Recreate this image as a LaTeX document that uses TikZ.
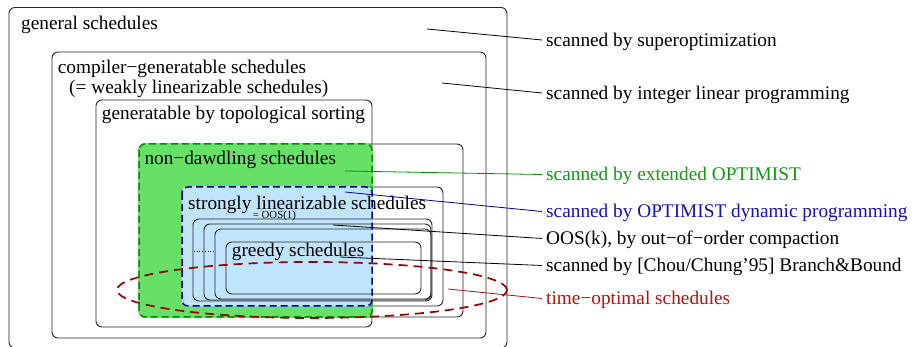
\documentclass[tikz,border=0pt]{standalone}
\usepackage{fontspec}
\setmainfont{Liberation Serif}
\definecolor{ndfill}{RGB}{102,224,102}
\definecolor{ndline}{RGB}{0,140,0}
\definecolor{ndtext}{RGB}{20,150,20}
\definecolor{slfill}{RGB}{192,228,252}
\definecolor{slline}{RGB}{0,0,150}
\definecolor{sltext}{RGB}{20,20,170}
\definecolor{toline}{RGB}{150,0,0}
\definecolor{totext}{RGB}{170,20,20}
\begin{document}
\begin{tikzpicture}[x=1pt,y=-1pt,
  box/.style={draw=black!85, line width=0.9pt, rounded corners=6pt},
  region/.style={fill=#1, draw=#1, line width=1.5pt, rounded corners=6pt},
  regionedge/.style={draw=#1, line width=1.5pt, rounded corners=6pt, dash pattern=on 7pt off 4pt},
  lbl/.style={anchor=base west, inner xsep=4pt, inner ysep=0pt, text height=15pt, text depth=2pt,
              font=\fontsize{19.3}{23}\selectfont},
  inlbl/.style={anchor=base west, inner sep=0pt, font=\fontsize{19.3}{23}\selectfont},
  lead/.style={line width=0.8pt}]
\useasboundingbox (0,0) rectangle (913,347);

% nested schedule classes
\draw[box] (9,7.5) rectangle (507,348);
\draw[box] (52,52) rectangle (486,338);
\draw[box] (96,100) rectangle (372,327);
\draw[box] (139,144) rectangle (463,317);
% non-dawdling part reachable by topological sorting
\path[region=ndfill] (139,144) rectangle (372,317);
\draw[regionedge=ndline] (139,144) rectangle (372,317);
\draw[box] (182,187) rectangle (443,306);
% strongly linearizable part reachable by topological sorting
\path[region=slfill] (182,187) rectangle (372,306);
\draw[regionedge=slline] (182,187) rectangle (372,306);

% OOS(k) hierarchy
\draw[box] (193,219) rectangle (432,301);
\draw[box] (204,224) rectangle (431,300);
\draw[box] (215,229) rectangle (431,299);
\draw[box] (226,242) rectangle (421,294);
\coordinate (dotA) at (194,251);
\coordinate (dotB) at (215,251);
\draw[line width=0.7pt, dotted] (dotA) -- (dotB);

% time-optimal schedules
\draw[toline, line width=1.7pt, dash pattern=on 9pt off 6pt]
  (312,290) ellipse [x radius=195pt, y radius=28pt];

% class names
\node[inlbl] (tg)  at (21,29.3)    {general schedules};
\node[inlbl] (tc)  at (57.7,74)    {compiler−generatable schedules};
\node[inlbl] (tw)  at (69,93.5)    {(= weakly linearizable schedules)};
\node[inlbl] (tt)  at (101.7,120)  {generatable by topological sorting};
\node[inlbl] (tn)  at (144.3,165)  {non−dawdling schedules};
\node[inlbl] (ts)  at (188,209.5)  {strongly linearizable schedules};
\node[inlbl] (tgr) at (231.7,256.7){greedy schedules};
\node[anchor=base west, inner sep=0pt, font=\fontsize{10.8}{12}\selectfont] (to1) at (252.7,219) {= OOS(1)};

% method labels
\node[lbl] (l1) at (542,46.5) {scanned by superoptimization};
\node[lbl] (l2) at (542,99.5) {scanned by integer linear programming};
\node[lbl, text=ndtext] (l3) at (542,181) {scanned by extended OPTIMIST};
\node[lbl, text=sltext] (l4) at (542,218) {scanned by OPTIMIST dynamic programming};
\node[lbl] (l5) at (542,245) {OOS(k), by out−of−order compaction};
\node[lbl] (l6) at (542,272) {scanned by [Chou/Chung’95] Branch\&Bound};
\node[lbl, text=totext] (l7) at (542,305) {time−optimal schedules};

% leader lines
\coordinate (c1) at (427,29);
\coordinate (c2) at (442,83);
\coordinate (c3) at (345,171);
\coordinate (c4) at (345,192);
\coordinate (c5) at (333,225);
\coordinate (c6) at (340,257);
\coordinate (c7) at (448,289);
\draw[lead] (c1) -- (l1.west);
\draw[lead] (c2) -- (l2.west);
\draw[lead, draw=ndline] (c3) -- (l3.west);
\draw[lead, draw=slline] (c4) -- (l4.west);
\draw[lead] (c5) -- (l5.west);
\draw[lead] (c6) -- (l6.west);
\draw[lead, draw=totext] (c7) -- (l7.west);
\end{tikzpicture}
\end{document}
